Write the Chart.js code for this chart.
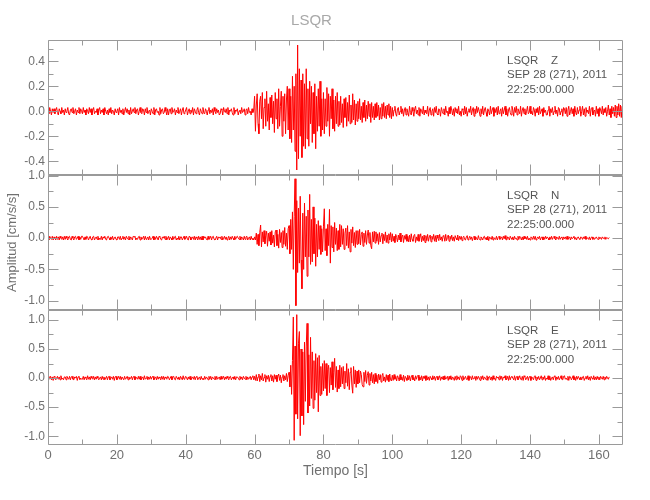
<!DOCTYPE html>
<html>
<head>
<meta charset="utf-8">
<script src="https://cdn.jsdelivr.net/npm/chart.js@4"></script>
<style>
  html, body { margin: 0; padding: 0; background: #fff; }
  #wrap { width: 650px; height: 500px; }
</style>
</head>
<body>
<div id="wrap"><canvas id="myChart" width="650" height="500"></canvas></div>
<script>
// station header text
const stationName = 'LSQR';
const components = ['Z', 'N', 'E'];
const dateLine = 'SEP 28 (271), 2011';
const timeLine = '22:25:00.000';

// samples every 0.25 s, starting at 0 s (one row below = 5 s)
const sampleStep = 0.25;

// axis ranges / tick steps
const xMin = 0, xMax = 167, xStep = 20;
const zRange = [-0.51, 0.57], zStep = 0.2;
const nRange = [-1.15, 1.01], nStep = 0.5;
const eRange = [-1.15, 1.17], eStep = 0.5;

// vertical component (cm/s/s)
const traceZ = [
  0.01,-0.02,0.03,0.00,-0.03,0.02,-0.01,0.02,-0.02,0.01,0.03,-0.01,-0.03,0.02,0.00,-0.02,0.03,-0.01,0.01,-0.03,
  0.02,-0.01,0.00,0.03,-0.02,-0.03,0.01,0.02,-0.01,0.03,-0.02,0.00,0.02,-0.03,0.01,-0.01,0.03,-0.02,0.02,0.00,
  -0.02,0.03,-0.01,0.01,-0.03,0.02,0.00,-0.02,0.03,-0.01,0.02,-0.03,0.01,0.03,-0.02,0.00,-0.01,0.02,-0.03,0.01,
  0.03,-0.02,0.01,-0.01,0.02,-0.03,0.03,0.00,-0.02,0.01,-0.03,0.02,-0.01,0.03,-0.02,0.01,0.00,-0.03,0.02,-0.01,
  0.00,0.02,-0.03,0.03,-0.01,0.01,-0.02,0.02,-0.03,0.00,0.03,-0.01,0.02,-0.02,0.01,-0.03,0.03,-0.02,0.00,0.02,
  -0.01,0.03,-0.02,0.01,0.02,-0.03,0.00,0.03,-0.01,-0.02,0.02,0.01,-0.03,0.02,-0.01,0.03,-0.02,0.00,0.01,-0.03,
  0.02,0.00,-0.02,0.03,-0.03,0.01,0.02,-0.01,0.00,-0.03,0.03,-0.02,0.01,0.02,-0.02,-0.01,0.03,0.00,-0.03,0.02,
  -0.03,0.01,0.02,-0.02,0.03,-0.01,0.00,0.02,-0.03,0.01,-0.01,0.03,-0.02,0.00,0.02,-0.03,0.01,0.03,-0.02,-0.01,
  0.01,0.03,-0.03,0.00,0.02,-0.02,0.01,-0.01,0.03,-0.03,0.02,0.00,-0.02,0.01,0.03,-0.01,-0.03,0.02,0.00,-0.02,
  0.03,-0.01,-0.02,0.02,0.00,-0.03,0.01,0.03,-0.02,0.01,-0.01,0.02,-0.03,0.03,0.00,-0.02,0.02,-0.01,0.01,-0.03,
  -0.02,0.02,0.01,-0.03,0.03,0.00,-0.01,0.02,-0.02,0.03,-0.03,0.01,0.00,0.02,-0.01,-0.03,0.03,-0.02,0.01,0.00,
  0.02,-0.03,0.00,0.01,-0.02,0.03,-0.01,0.00,0.02,-0.03,0.01,0.02,-0.02,0.03,-0.01,0.00,-0.03,0.02,-0.01,0.01,
  0.12,-0.16,0.05,0.14,-0.10,-0.18,0.08,0.12,-0.06,0.15,-0.14,0.03,0.10,-0.12,0.16,-0.08,0.06,-0.15,0.11,-0.05,
  0.13,-0.10,0.08,-0.17,0.15,-0.06,0.10,-0.14,0.18,-0.12,0.04,0.16,-0.20,0.12,-0.08,0.14,-0.18,0.09,0.20,-0.15,
  0.18,-0.22,0.12,-0.25,0.28,-0.15,0.20,-0.32,0.30,-0.47,0.53,-0.38,0.34,-0.20,0.25,-0.37,0.30,-0.28,0.22,-0.30,
  0.34,-0.22,0.18,-0.28,0.24,-0.10,0.20,-0.25,0.15,-0.18,0.22,-0.30,0.12,-0.16,0.18,-0.12,0.24,-0.20,0.10,-0.15,
  0.15,-0.18,0.10,-0.12,0.19,-0.08,0.14,-0.20,0.12,-0.06,0.18,-0.14,0.09,-0.16,0.12,-0.10,0.15,-0.12,0.08,-0.11,
  0.12,-0.09,0.06,-0.13,0.10,-0.05,0.11,-0.12,0.07,-0.08,0.13,-0.10,0.05,-0.09,0.14,-0.07,0.09,-0.11,0.06,-0.08,
  0.08,-0.06,0.10,-0.07,0.04,-0.09,0.07,-0.05,0.09,-0.08,0.05,-0.06,0.08,-0.04,0.06,-0.09,0.07,-0.05,0.04,-0.07,
  0.06,-0.05,0.07,-0.04,0.05,-0.07,0.03,-0.06,0.06,-0.04,0.07,-0.05,0.04,-0.06,0.05,-0.03,0.06,-0.05,0.04,-0.06,
  0.03,-0.04,0.01,0.04,-0.02,-0.04,0.02,0.03,-0.03,0.00,0.04,-0.02,0.02,-0.04,0.01,0.03,-0.03,0.02,-0.01,-0.04,
  0.04,-0.01,-0.03,0.03,0.00,-0.04,0.02,0.04,-0.02,0.01,-0.03,0.03,-0.04,0.02,0.00,-0.02,0.04,-0.03,0.01,-0.01,
  -0.02,0.04,-0.04,0.01,0.03,-0.03,0.00,0.02,-0.04,0.03,-0.01,0.04,-0.02,-0.03,0.02,0.01,-0.04,0.03,0.00,-0.02,
  0.02,-0.03,0.04,-0.01,0.00,-0.04,0.03,-0.02,0.04,0.01,-0.03,0.02,-0.04,0.03,-0.01,0.02,-0.02,0.04,-0.03,0.00,
  -0.04,0.02,0.01,-0.03,0.04,-0.02,0.03,-0.04,0.00,0.02,-0.01,0.04,-0.03,0.01,0.03,-0.04,0.02,-0.02,0.04,-0.01,
  0.03,0.00,-0.04,0.02,-0.02,0.04,-0.03,0.01,0.03,-0.01,-0.04,0.02,0.00,-0.03,0.04,-0.02,0.01,0.03,-0.04,0.02,
  -0.01,0.03,-0.03,0.04,-0.02,0.00,0.02,-0.04,0.03,-0.02,0.01,0.04,-0.03,0.02,-0.04,0.01,0.03,-0.01,-0.03,0.04,
  0.01,-0.04,0.03,-0.01,0.04,-0.03,0.02,0.00,-0.02,0.04,-0.04,0.01,0.03,-0.02,0.02,-0.03,0.00,0.04,-0.02,-0.01,
  0.04,-0.02,0.00,-0.03,0.03,0.01,-0.04,0.02,-0.01,0.03,-0.03,0.04,-0.02,0.00,0.02,-0.04,0.03,-0.01,0.01,-0.03,
  -0.03,0.01,0.04,-0.04,0.02,-0.01,0.03,-0.03,0.00,0.04,-0.02,0.01,-0.04,0.03,0.02,-0.03,0.00,0.02,-0.04,0.03,
  0.02,-0.02,0.03,-0.04,0.01,0.04,-0.03,0.00,0.03,-0.02,0.02,-0.04,0.04,-0.01,-0.03,0.03,-0.02,0.01,0.04,-0.04,
  0.00,0.04,-0.03,0.02,-0.04,0.03,-0.01,0.01,-0.02,0.04,-0.04,0.02,0.03,-0.03,0.00,0.01,-0.04,0.04,-0.02,0.02,
  -0.04,0.03,0.01,-0.02,0.04,-0.03,0.02,-0.01,0.03,-0.04,0.00,0.05,-0.03,0.02,-0.05,0.04,-0.02,0.03,-0.04,0.05,
  -0.05,0.04,-0.03,0.06,-0.04,0.05,-0.05,0.04,-0.03
];

// north component
const traceN = [
  0.02,-0.03,0.03,0.00,-0.02,0.03,-0.03,0.02,0.00,-0.03,0.03,-0.02,0.02,-0.03,0.03,0.00,-0.02,0.02,-0.03,0.03,
  -0.02,0.03,0.00,-0.03,0.02,0.03,-0.02,-0.03,0.03,0.00,-0.03,0.02,0.03,-0.02,0.00,0.03,-0.03,0.02,-0.02,0.03,
  0.03,0.00,-0.03,0.02,-0.02,0.03,0.02,-0.03,0.00,0.03,-0.02,-0.03,0.02,0.03,-0.03,0.00,0.02,-0.02,0.03,-0.03,
  0.00,-0.02,0.03,-0.03,0.02,0.00,0.03,-0.02,-0.03,0.02,0.03,0.00,-0.03,0.02,-0.02,0.03,-0.03,0.00,0.02,-0.02,
  -0.03,0.02,0.02,-0.02,0.03,-0.03,0.00,0.03,-0.02,0.02,-0.03,0.03,0.00,-0.02,0.03,-0.03,0.02,0.00,-0.03,0.03,
  0.02,0.03,-0.03,0.00,-0.02,0.02,0.03,-0.03,0.02,-0.02,0.00,0.03,-0.03,0.03,-0.02,0.00,0.02,-0.03,0.03,-0.02,
  -0.02,0.00,0.03,-0.03,0.02,-0.02,0.03,0.00,-0.03,0.03,0.02,-0.02,-0.03,0.02,0.00,0.03,-0.02,0.03,-0.03,0.00,
  0.03,-0.03,0.02,0.00,-0.03,0.03,-0.02,0.02,0.03,-0.03,0.00,-0.02,0.03,-0.03,0.02,0.02,-0.03,0.00,0.03,-0.02,
  0.00,0.03,-0.02,-0.03,0.03,0.02,-0.03,0.00,0.02,-0.02,0.03,-0.03,0.02,0.00,-0.03,0.03,-0.02,0.02,-0.03,0.03,
  -0.03,0.03,0.00,0.02,-0.02,-0.03,0.03,-0.02,0.00,0.03,-0.03,0.02,0.03,-0.02,-0.03,0.00,0.03,-0.03,0.02,0.00,
  0.02,-0.02,0.03,-0.03,0.00,0.03,-0.02,0.02,-0.03,0.00,0.03,-0.03,0.02,-0.02,0.03,0.00,-0.03,0.03,-0.02,0.02,
  0.03,0.00,-0.02,0.03,-0.03,0.02,0.00,-0.03,0.03,-0.02,0.02,0.03,-0.03,0.00,0.02,-0.03,0.03,-0.02,0.00,-0.03,
  0.02,-0.03,0.08,-0.10,0.06,-0.12,0.09,0.21,-0.14,0.10,-0.06,0.12,-0.09,0.04,0.11,-0.13,0.08,-0.05,0.10,-0.11,
  0.12,-0.08,0.05,-0.14,0.10,0.13,-0.12,0.06,-0.16,0.14,-0.07,0.09,-0.15,0.12,-0.10,0.17,-0.13,0.08,-0.18,0.15,
  0.20,-0.25,0.30,-0.18,0.42,-0.50,0.35,0.95,-1.08,0.60,-0.55,0.48,-0.40,0.67,-0.35,-0.81,0.40,-0.50,0.56,-0.30,
  0.35,-0.61,0.45,-0.30,0.70,-0.42,0.30,-0.38,0.50,-0.25,0.32,-0.45,0.22,-0.30,0.28,-0.18,0.20,-0.26,0.15,-0.22,
  0.18,0.47,-0.20,0.15,-0.28,0.22,-0.12,0.46,-0.40,0.20,-0.15,0.18,-0.22,0.25,-0.10,0.16,-0.20,0.12,-0.18,0.22,
  -0.14,0.20,-0.10,0.15,-0.18,0.08,0.16,-0.12,0.20,-0.16,0.10,-0.22,0.14,-0.08,0.18,-0.12,0.09,-0.15,0.12,-0.10,
  0.12,-0.09,0.14,-0.11,0.06,0.10,-0.13,0.08,-0.07,0.12,-0.10,0.05,0.13,-0.08,0.09,-0.12,-0.17,0.10,-0.06,0.11,
  -0.08,0.10,-0.05,0.07,-0.10,0.09,-0.06,0.04,0.08,-0.09,0.06,-0.04,0.10,-0.07,0.05,-0.08,0.07,-0.03,0.09,-0.06,
  0.07,-0.05,0.03,-0.07,0.06,0.01,-0.06,0.05,-0.03,0.08,-0.06,0.02,0.05,-0.07,0.04,-0.02,0.06,-0.05,0.03,-0.06,
  0.05,-0.06,0.07,-0.02,-0.05,0.04,0.06,-0.07,0.02,-0.04,0.06,-0.05,0.01,0.07,-0.06,0.03,-0.04,0.05,-0.07,0.04,
  -0.04,0.06,-0.05,0.02,0.05,-0.06,0.03,-0.02,0.06,-0.05,0.04,-0.06,0.05,0.00,-0.04,0.06,-0.03,0.02,-0.05,0.04,
  0.03,-0.05,0.06,-0.04,0.01,0.05,-0.05,0.03,-0.02,0.05,-0.04,0.02,-0.05,0.04,0.00,-0.03,0.05,-0.04,0.03,-0.02,
  0.03,-0.04,0.01,0.03,-0.02,-0.03,0.02,0.04,-0.03,0.00,0.03,-0.02,0.02,-0.04,0.01,0.03,-0.03,0.02,-0.01,-0.03,
  0.04,-0.01,-0.03,0.02,0.00,-0.03,0.02,0.03,-0.02,0.01,-0.03,0.03,-0.04,0.02,0.00,-0.02,0.03,-0.03,0.01,-0.01,
  -0.02,0.03,-0.03,0.01,0.03,-0.02,0.00,0.02,-0.03,0.03,-0.01,0.04,-0.02,-0.03,0.02,0.01,-0.03,0.03,0.00,-0.02,
  0.02,-0.03,0.03,-0.01,0.00,-0.03,0.03,-0.02,0.03,0.01,-0.03,0.02,-0.03,0.03,-0.01,0.02,-0.02,0.03,-0.03,0.00,
  -0.03,0.02,0.01,-0.02,0.03,-0.02,0.03,-0.03,0.00,0.02,-0.01,0.03,-0.03,0.01,0.02,-0.03,0.02,-0.02,0.03,-0.01,
  0.02,0.00,-0.03,0.02,-0.02,0.03,-0.02,0.01,0.03,-0.01,-0.03,0.02,0.00,-0.02,0.03,-0.02,0.01,0.02,-0.03,0.02,
  -0.01,0.02,-0.02,0.03,-0.02,0.00,0.02,-0.03,0.02,-0.01,0.01,0.03,-0.02,0.01,-0.03,0.01,0.02,-0.01,-0.02,0.02,
  0.01,-0.02,0.02,-0.01,0.03,-0.02,0.01,0.00,-0.02,0.02,-0.03,0.01,0.02,-0.02,0.01,-0.02,0.00,0.02,-0.01,-0.02,
  0.02,-0.01,0.01,-0.02,0.02,0.00,-0.01,0.02,-0.02,0.01,0.00,-0.01,0.01
];

// east component
const traceE = [
  0.03,-0.02,0.00,0.03,-0.03,0.02,-0.04,0.03,0.02,-0.03,0.00,0.03,-0.02,0.02,-0.03,0.04,-0.02,0.00,-0.03,0.02,
  0.02,-0.03,0.03,0.00,-0.02,0.03,-0.03,0.02,0.03,-0.02,-0.03,0.02,0.00,0.03,-0.04,0.02,0.03,-0.03,0.00,-0.02,
  -0.02,0.03,-0.03,0.02,0.00,-0.03,0.04,-0.02,0.02,-0.03,0.03,0.00,-0.02,0.03,-0.03,0.02,-0.02,0.03,0.00,-0.03,
  0.00,0.02,-0.03,0.03,-0.02,0.02,-0.03,0.00,0.03,-0.03,0.02,0.03,-0.03,0.00,0.02,-0.02,0.03,-0.04,0.02,0.03,
  -0.03,0.00,0.03,-0.02,0.03,-0.03,0.02,0.02,-0.03,0.03,-0.02,0.00,0.03,-0.03,0.02,-0.02,0.00,0.03,-0.03,0.02,
  0.03,-0.03,0.02,0.00,-0.02,0.03,-0.02,0.03,-0.03,0.00,0.02,-0.03,0.04,-0.02,0.00,0.03,-0.03,0.02,-0.02,0.03,
  -0.02,0.02,0.03,-0.03,0.00,0.02,-0.03,0.03,-0.02,0.02,0.00,-0.03,0.03,-0.02,0.03,-0.03,0.02,0.00,-0.02,0.03,
  0.02,-0.03,0.00,0.03,-0.03,0.02,0.03,-0.02,-0.03,0.03,0.00,-0.02,0.02,-0.03,0.03,0.00,-0.03,0.04,-0.02,0.00,
  0.03,0.00,-0.03,0.02,-0.02,0.03,-0.03,0.00,0.02,-0.02,0.03,-0.03,0.02,0.03,-0.03,0.00,0.02,-0.03,0.03,-0.02,
  0.00,-0.03,0.03,-0.02,0.02,0.00,-0.03,0.03,-0.02,0.03,-0.03,0.02,0.00,-0.02,0.03,-0.03,0.03,-0.02,0.00,0.02,
  -0.03,0.03,-0.02,0.00,0.03,-0.03,0.02,-0.02,0.03,0.00,-0.03,0.02,0.03,-0.03,0.00,0.02,-0.02,0.03,-0.03,0.02,
  0.02,0.00,-0.03,0.03,-0.02,0.02,-0.03,0.03,0.00,-0.02,0.03,-0.03,0.02,-0.02,0.00,0.03,-0.03,0.02,0.04,-0.03,
  0.03,-0.04,0.06,-0.05,0.02,0.07,-0.06,0.04,-0.03,0.08,-0.05,0.01,0.06,-0.07,0.04,-0.02,0.05,-0.06,0.03,0.06,
  -0.05,0.04,-0.07,0.06,-0.02,0.05,-0.06,0.03,0.07,-0.04,0.05,-0.08,0.02,0.06,-0.05,0.04,-0.03,0.08,-0.06,0.05,
  0.10,-0.15,0.22,-0.28,0.30,1.05,-1.07,0.55,-0.62,1.09,-0.70,0.60,0.80,-0.99,0.50,-0.65,0.45,-0.80,0.62,-0.40,
  0.55,0.94,-0.60,0.40,-0.48,0.70,-0.35,0.45,-0.52,0.30,-0.38,0.42,-0.25,0.35,-0.58,0.39,-0.30,0.20,-0.28,0.25,
  -0.22,0.30,-0.18,0.25,-0.30,0.15,0.22,-0.25,0.18,-0.12,0.28,-0.20,0.10,0.34,-0.16,0.20,-0.24,0.14,-0.18,0.22,
  -0.15,0.18,-0.10,0.20,-0.18,0.12,-0.08,0.25,-0.14,0.16,-0.20,0.10,0.18,-0.12,-0.26,0.20,-0.10,0.14,-0.16,0.12,
  -0.10,0.14,-0.08,0.12,0.06,-0.11,-0.15,0.10,-0.06,0.13,-0.09,0.05,0.11,-0.12,0.08,-0.05,0.10,-0.08,0.06,-0.10,
  0.08,-0.06,0.05,-0.09,0.07,-0.03,0.06,-0.07,0.04,0.08,-0.05,0.02,-0.07,0.06,-0.04,0.05,-0.06,0.07,-0.03,-0.05,
  0.05,-0.04,0.06,-0.02,0.03,-0.05,0.04,0.01,-0.05,0.06,-0.03,0.02,-0.04,0.05,-0.06,0.03,0.00,-0.04,0.05,-0.03,
  0.04,-0.05,0.02,0.05,-0.03,0.01,-0.05,0.04,-0.02,0.03,0.05,-0.04,0.02,-0.03,0.04,-0.05,0.03,-0.01,0.04,-0.04,
  0.04,-0.03,0.02,-0.04,0.03,0.00,-0.03,0.04,-0.02,0.03,-0.04,0.02,0.03,-0.03,0.00,0.04,-0.04,0.02,-0.02,0.03,
  -0.03,0.04,-0.02,0.00,0.03,-0.04,0.03,-0.02,0.04,-0.03,0.02,0.00,-0.04,0.03,-0.03,0.04,-0.02,0.02,-0.03,0.04,
  0.02,-0.04,0.04,-0.03,0.00,0.03,-0.02,-0.03,0.04,-0.04,0.03,0.02,-0.03,0.04,-0.02,0.00,0.03,-0.04,0.03,-0.02,
  0.03,0.00,-0.04,0.03,-0.02,0.04,-0.03,0.02,0.00,-0.03,0.04,-0.04,0.02,0.03,-0.03,0.02,-0.04,0.04,-0.02,0.00,
  -0.04,0.03,0.00,0.02,-0.03,0.04,-0.02,0.03,-0.04,0.02,0.00,0.04,-0.03,-0.02,0.03,-0.04,0.04,-0.03,0.02,0.03,
  0.00,-0.03,0.04,-0.04,0.02,0.03,-0.03,0.00,0.04,-0.02,-0.03,0.03,-0.04,0.04,0.02,-0.03,0.00,0.03,-0.04,0.02,
  0.03,-0.04,0.02,0.00,-0.03,0.03,0.04,-0.04,0.02,-0.02,0.03,-0.03,0.00,0.04,-0.03,0.02,-0.02,0.04,-0.04,0.00,
  -0.02,0.04,-0.03,0.03,-0.04,0.00,0.02,-0.03,0.03,0.04,-0.04,0.02,-0.02,0.03,-0.03,0.00,0.04,-0.02,-0.03,0.03,
  0.04,-0.02,0.00,-0.03,0.03,-0.04,0.03,0.02,-0.03,0.00,0.04,-0.03,0.02,-0.04,0.03,-0.02,0.03,0.00,-0.03,0.02,
  -0.03,0.02,0.03,-0.04,0.00,0.03,-0.02,0.04,-0.03,0.02,-0.04,0.03,0.00,-0.02,0.04,-0.03,0.02,-0.03,0.03,-0.02,
  0.02,-0.03,0.03,0.00,-0.02,0.03,-0.03,0.02,-0.02,0.03,0.00,-0.02,0.02
];

const fontFamily = '"Liberation Sans", Arial, sans-serif';
const axisColor = '#9a9a9a';
const labelColor = '#707070';
const noteColor = '#555555';
const traceColor = '#ff0000';

function toPoints(values) {
  return values.map((v, i) => ({ x: i * sampleStep, y: v }));
}

function fmtTick(value) {
  return value.toFixed(1);
}

// inward ticks, panel frames and station notes (IDL-style)
const panelPlugin = {
  id: 'panelFrames',
  afterDatasetsDraw(chart) {
    const ctx = chart.ctx;
    const area = chart.chartArea;
    const xs = chart.scales.x;
    const left = Math.round(area.left) + 0.5;
    const right = Math.round(area.right) - 0.5;
    ctx.save();
    ctx.strokeStyle = axisColor;
    ctx.lineWidth = 1;
    ['yZ', 'yN', 'yE'].forEach((id, k) => {
      const ys = chart.scales[id];
      const top = Math.round(ys.top) + 0.5;
      const bottom = Math.round(ys.bottom) - 0.5;
      ctx.beginPath();
      ctx.rect(left, top, right - left, bottom - top);

      const xHalf = xStep / 2;
      for (let i = Math.ceil(xs.min / xHalf); i * xHalf <= xs.max; i++) {
        const px = Math.round(xs.getPixelForValue(i * xHalf)) + 0.5;
        const len = i % 2 === 0 ? 10 : 5;
        ctx.moveTo(px, top); ctx.lineTo(px, top + len);
        ctx.moveTo(px, bottom); ctx.lineTo(px, bottom - len);
      }

      const yHalf = ys.options.ticks.stepSize / 2;
      for (let i = Math.ceil(ys.min / yHalf - 1e-9); i * yHalf <= ys.max + 1e-9; i++) {
        const py = Math.round(ys.getPixelForValue(i * yHalf)) + 0.5;
        const len = i % 2 === 0 ? 10 : 5;
        ctx.moveTo(left, py); ctx.lineTo(left + len, py);
        ctx.moveTo(right, py); ctx.lineTo(right - len, py);
      }
      ctx.stroke();

      ctx.fillStyle = noteColor;
      ctx.font = '11.5px ' + fontFamily;
      ctx.textAlign = 'left';
      ctx.textBaseline = 'middle';
      ctx.fillText(stationName + '    ' + components[k], 507, ys.top + 20.5);
      ctx.fillText(dateLine, 507, ys.top + 35);
      ctx.fillText(timeLine, 507, ys.top + 49.5);
    });
    ctx.restore();
  }
};

Chart.defaults.font.family = fontFamily;
Chart.defaults.color = labelColor;

function yAxis(range, step, weight, title) {
  return {
    type: 'linear',
    position: 'left',
    stack: 'traces',
    stackWeight: 1,
    weight: weight,
    min: range[0],
    max: range[1],
    grid: { display: false, drawTicks: false },
    border: { display: false },
    ticks: {
      stepSize: step,
      includeBounds: false,
      padding: 3,
      font: { size: 12 },
      callback: fmtTick
    },
    title: title ? {
      display: true,
      text: title,
      font: { size: 13 },
      padding: { top: 5, bottom: 5 }
    } : { display: false },
    afterFit(scale) { scale.width = 48; }
  };
}

const ctx = document.getElementById('myChart').getContext('2d');
new Chart(ctx, {
  type: 'line',
  data: {
    datasets: [
      { label: 'Z', data: toPoints(traceZ), yAxisID: 'yZ' },
      { label: 'N', data: toPoints(traceN), yAxisID: 'yN' },
      { label: 'E', data: toPoints(traceE), yAxisID: 'yE' }
    ].map(d => Object.assign(d, {
      borderColor: traceColor,
      borderWidth: 1,
      pointRadius: 0,
      tension: 0,
      fill: false
    }))
  },
  options: {
    responsive: false,
    animation: false,
    devicePixelRatio: 1,
    layout: { padding: { left: 0, right: 27, top: 0, bottom: 0 } },
    plugins: {
      legend: { display: false },
      tooltip: { enabled: false },
      title: {
        display: true,
        text: stationName,
        color: '#a8a8a8',
        font: { size: 15, weight: 'normal' },
        padding: { top: 12, bottom: 10 }
      }
    },
    scales: {
      x: {
        type: 'linear',
        position: 'bottom',
        min: xMin,
        max: xMax,
        grid: { display: false, drawTicks: false },
        border: { display: false },
        ticks: {
          stepSize: xStep,
          includeBounds: false,
          maxRotation: 0,
          padding: 3,
          font: { size: 13 }
        },
        title: {
          display: true,
          text: 'Tiempo [s]',
          font: { size: 14 },
          padding: { top: 20, bottom: 20 }
        },
        afterFit(scale) { scale.height = 55; }
      },
      yE: yAxis(eRange, eStep, 1, null),
      yN: yAxis(nRange, nStep, 2, 'Amplitud [cm/s/s]'),
      yZ: yAxis(zRange, zStep, 3, null)
    }
  },
  plugins: [panelPlugin]
});
</script>
</body>
</html>
